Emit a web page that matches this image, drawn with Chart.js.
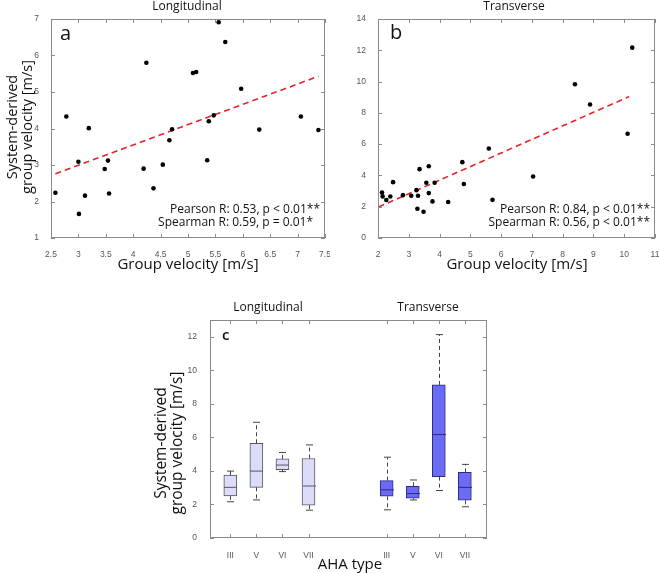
<!DOCTYPE html>
<html>
<head>
<meta charset="utf-8">
<script src="https://cdn.jsdelivr.net/npm/chart.js@4.4.1/dist/chart.umd.min.js"></script>
<style>
  body { margin: 0; background: #fff; }
  #fig { position: relative; width: 659px; height: 573px; }
  canvas { position: absolute; }
</style>
</head>
<body>
<div id="fig">
  <canvas id="chartA" width="330" height="285" style="left:0;top:0"></canvas>
  <canvas id="chartB" width="329" height="285" style="left:330px;top:0"></canvas>
  <canvas id="chartC" width="350" height="283" style="left:150px;top:290px"></canvas>
</div>
<script>
// panel a - longitudinal
const lonGroupVel = [2.58, 2.78, 3.00, 3.01, 3.12, 3.19, 3.48, 3.54, 3.56, 4.19, 4.24, 4.37, 4.54,
  4.66, 4.71, 5.09, 5.15, 5.35, 5.38, 5.47, 5.56, 5.68, 5.97, 6.30, 7.06, 7.38];
const lonSystemVel = [2.24, 4.33, 3.09, 1.66, 2.16, 4.01, 2.89, 3.12, 2.22, 2.90, 5.80, 2.36, 3.01,
  3.68, 3.98, 5.52, 5.55, 3.13, 4.20, 4.36, 6.91, 6.37, 5.09, 3.97, 4.33, 3.96];
const lonFitX = [2.58, 7.38];
const lonFitY = [2.76, 5.43];

// panel b - transverse
const traGroupVel = [2.13, 2.15, 2.27, 2.40, 2.49, 2.81, 3.08, 3.25, 3.28, 3.30, 3.35, 3.48, 3.57,
  3.65, 3.65, 3.77, 3.84, 4.28, 4.74, 4.79, 5.60, 5.72, 7.04, 8.40, 8.89, 10.11, 10.26];
const traSystemVel = [2.91, 2.66, 2.43, 2.65, 3.57, 2.74, 2.70, 3.06, 1.87, 2.70, 4.40, 1.68, 3.53,
  4.59, 2.87, 2.34, 3.53, 2.30, 4.85, 3.45, 5.72, 2.44, 3.93, 9.83, 8.53, 6.66, 12.17];
const traFitX = [2.02, 10.16];
const traFitY = [1.98, 9.04];

// panel c - box plots per AHA type
const ahaTypes = ['III', 'V', 'VI', 'VII'];
const lonMin = [2.16, 2.27, 3.96, 1.66];
const lonQ1 = [2.51, 3.02, 4.07, 1.96];
const lonMedian = [3.02, 3.99, 4.35, 3.10];
const lonQ3 = [3.75, 5.65, 4.72, 4.74];
const lonMax = [3.99, 6.90, 5.10, 5.55];
const traMin = [1.68, 2.27, 2.83, 1.86];
const traQ1 = [2.49, 2.37, 3.66, 2.25];
const traMedian = [2.87, 2.65, 6.17, 3.02];
const traQ3 = [3.42, 3.08, 9.13, 3.91];
const traMax = [4.82, 3.46, 12.13, 4.39];

const FONT = '"Open Sans", "Noto Sans", sans-serif';
const tickFont = { family: '"Liberation Sans", Arial, sans-serif', size: 8.5 };
const tickColor = '#555';
const frameColor = '#8a8a8a';

// free text (titles, axis labels, stats)
const textPlugin = {
  id: 'texts',
  afterDraw(chart, args, opts) {
    const { ctx } = chart;
    (opts.items || []).forEach((t) => {
      ctx.save();
      ctx.font = t.font;
      ctx.fillStyle = t.color || '#111';
      ctx.textAlign = t.align || 'center';
      ctx.textBaseline = 'middle';
      ctx.translate(t.x, t.y);
      if (t.rotate) ctx.rotate(t.rotate);
      ctx.fillText(t.text, 0, 0);
      ctx.restore();
    });
  },
};

// matlab style box with inward ticks on all sides
const framePlugin = {
  id: 'frame',
  afterDatasetsDraw(chart) {
    const { ctx, chartArea: a, scales: { x, y } } = chart;
    const len = 4;
    ctx.save();
    ctx.strokeStyle = frameColor;
    ctx.lineWidth = 1;
    ctx.strokeRect(a.left + 0.5, a.top + 0.5, a.width - 1, a.height - 1);
    ctx.beginPath();
    x.ticks.forEach((t) => {
      const px = Math.round(x.getPixelForValue(t.value)) + 0.5;
      ctx.moveTo(px, a.bottom); ctx.lineTo(px, a.bottom - len);
      ctx.moveTo(px, a.top); ctx.lineTo(px, a.top + len);
    });
    y.ticks.forEach((t) => {
      const py = Math.round(y.getPixelForValue(t.value)) + 0.5;
      ctx.moveTo(a.left, py); ctx.lineTo(a.left + len, py);
      ctx.moveTo(a.right, py); ctx.lineTo(a.right - len, py);
    });
    ctx.stroke();
    ctx.restore();
  },
};

// whiskers, caps and medians on top of the floating bars
const whiskerPlugin = {
  id: 'whiskers',
  afterDatasetsDraw(chart) {
    const { ctx, scales: { x, y } } = chart;
    ctx.save();
    chart.data.datasets.forEach((ds) => {
      ds.data.forEach((d, i) => {
        const cx = Math.round(x.getPixelForValue(d.x)) + 0.5;
        const yMin = y.getPixelForValue(ds.lo[i]);
        const yMax = y.getPixelForValue(ds.hi[i]);
        const yQ1 = y.getPixelForValue(d.y[0]);
        const yQ3 = y.getPixelForValue(d.y[1]);
        const yMed = y.getPixelForValue(ds.med[i]);
        ctx.lineWidth = 1;
        ctx.strokeStyle = '#444';
        ctx.setLineDash([4, 3]);
        ctx.beginPath();
        ctx.moveTo(cx, yQ3); ctx.lineTo(cx, yMax);
        ctx.moveTo(cx, yQ1); ctx.lineTo(cx, yMin);
        ctx.stroke();
        ctx.setLineDash([]);
        ctx.beginPath();
        ctx.moveTo(cx - 3.5, yMax); ctx.lineTo(cx + 3.5, yMax);
        ctx.moveTo(cx - 3.5, yMin); ctx.lineTo(cx + 3.5, yMin);
        ctx.stroke();
        ctx.strokeStyle = ds.borderColor;
        ctx.beginPath();
        ctx.moveTo(cx - 6.5, yMed); ctx.lineTo(cx + 6.5, yMed);
        ctx.stroke();
      });
    });
    ctx.restore();
  },
};

function linAxis(min, max, step, size, pad) {
  return {
    type: 'linear',
    min,
    max,
    grid: { display: false },
    border: { display: false },
    ticks: {
      stepSize: step,
      color: tickColor,
      font: tickFont,
      padding: pad,
      autoSkip: false,
      maxRotation: 0,
      includeBounds: false,
      callback: (v) => String(v),
    },
    afterFit(scale) {
      if (scale.isHorizontal()) {
        scale.height = size;
        scale.paddingLeft = 0;
        scale.paddingRight = 0;
      } else {
        scale.width = size;
        scale.paddingTop = 0;
        scale.paddingBottom = 0;
      }
    },
  };
}

function scatterChart(id, xs, ys, fitX, fitY, xAxis, yAxis, pad, texts) {
  return new Chart(document.getElementById(id), {
    type: 'scatter',
    data: {
      datasets: [
        {
          data: xs.map((v, i) => ({ x: v, y: ys[i] })),
          backgroundColor: '#000',
          borderWidth: 0,
          pointRadius: 2.3,
        },
        {
          data: fitX.map((v, i) => ({ x: v, y: fitY[i] })),
          showLine: true,
          borderColor: '#e3242b',
          borderWidth: 1.6,
          borderDash: [6, 4],
          pointRadius: 0,
        },
      ],
    },
    options: {
      responsive: false,
      animation: false,
      layout: { padding: pad },
      scales: { x: xAxis, y: yAxis },
      plugins: {
        legend: { display: false },
        tooltip: { enabled: false },
        texts: { items: texts },
      },
    },
    plugins: [framePlugin, textPlugin],
  });
}

const yTitle = ['System-derived', 'group velocity [m/s]'];

scatterChart('chartA', lonGroupVel, lonSystemVel, lonFitX, lonFitY,
  linAxis(2.5, 7.5, 0.5, 47, 4), linAxis(1, 7, 1, 51, 4),
  { left: 0, top: 19, right: 5, bottom: 0 },
  [
    { text: 'Longitudinal', x: 187, y: 7, font: `12px ${FONT}` },
    { text: 'a', x: 60, y: 34, font: `20px ${FONT}`, align: 'left' },
    { text: yTitle[0], x: 13, y: 127, font: `14.5px ${FONT}`, rotate: -Math.PI / 2 },
    { text: yTitle[1], x: 28, y: 127, font: `14.5px ${FONT}`, rotate: -Math.PI / 2 },
    { text: 'Group velocity [m/s]', x: 188, y: 265, font: `15px ${FONT}` },
    { text: 'Pearson R: 0.53, p < 0.01**', x: 320, y: 210, font: `12px ${FONT}`, align: 'right' },
    { text: 'Spearman R: 0.59, p = 0.01*', x: 313, y: 223, font: `12px ${FONT}`, align: 'right' },
  ]);

scatterChart('chartB', traGroupVel, traSystemVel, traFitX, traFitY,
  linAxis(2, 11, 1, 47, 4), linAxis(0, 14, 2, 48, 4),
  { left: 0, top: 19, right: 4, bottom: 0 },
  [
    { text: 'Transverse', x: 184, y: 7, font: `12px ${FONT}` },
    { text: 'b', x: 60, y: 33, font: `20px ${FONT}`, align: 'left' },
    { text: 'Group velocity [m/s]', x: 187, y: 265, font: `15px ${FONT}` },
    { text: 'Pearson R: 0.84, p < 0.01**', x: 320, y: 210, font: `12px ${FONT}`, align: 'right' },
    { text: 'Spearman R: 0.56, p < 0.01**', x: 320, y: 223, font: `12px ${FONT}`, align: 'right' },
  ]);

// box plot panel
const lonPos = ahaTypes.map((_, i) => i + 1);
const traPos = ahaTypes.map((_, i) => i + 7);
const tickLabels = {};
lonPos.forEach((p, i) => { tickLabels[p] = ahaTypes[i]; });
traPos.forEach((p, i) => { tickLabels[p] = ahaTypes[i]; });

const xBox = linAxis(0.22, 10.85, 1, 35, 5);
xBox.offset = false;
xBox.afterBuildTicks = (scale) => {
  scale.ticks = lonPos.concat(traPos).map((v) => ({ value: v }));
};
xBox.ticks.callback = (v) => tickLabels[v] || '';

new Chart(document.getElementById('chartC'), {
  type: 'bar',
  data: {
    datasets: [
      {
        data: lonPos.map((p, i) => ({ x: p, y: [lonQ1[i], lonQ3[i]] })),
        lo: lonMin,
        hi: lonMax,
        med: lonMedian,
        backgroundColor: '#dcdcf9',
        borderColor: '#555566',
        borderWidth: 1,
        borderSkipped: false,
        barThickness: 13,
        grouped: false,
      },
      {
        data: traPos.map((p, i) => ({ x: p, y: [traQ1[i], traQ3[i]] })),
        lo: traMin,
        hi: traMax,
        med: traMedian,
        backgroundColor: '#6b6bf3',
        borderColor: '#2a2a88',
        borderWidth: 1,
        borderSkipped: false,
        barThickness: 13,
        grouped: false,
      },
    ],
  },
  options: {
    responsive: false,
    animation: false,
    layout: { padding: { left: 0, top: 30, right: 13, bottom: 0 } },
    scales: { x: xBox, y: linAxis(0, 13, 2, 60, 5) },
    plugins: {
      legend: { display: false },
      tooltip: { enabled: false },
      texts: {
        items: [
          { text: 'Longitudinal', x: 118, y: 18, font: `12px ${FONT}` },
          { text: 'Transverse', x: 278, y: 18, font: `12px ${FONT}` },
          { text: 'c', x: 72, y: 46, font: `600 15px ${FONT}`, align: 'left' },
          { text: yTitle[0], x: 12, y: 153, font: `15.5px ${FONT}`, rotate: -Math.PI / 2 },
          { text: yTitle[1], x: 28, y: 153, font: `15.5px ${FONT}`, rotate: -Math.PI / 2 },
          { text: 'AHA type', x: 200, y: 275, font: `15px ${FONT}` },
        ],
      },
    },
  },
  plugins: [whiskerPlugin, framePlugin, textPlugin],
});
</script>
</body>
</html>
